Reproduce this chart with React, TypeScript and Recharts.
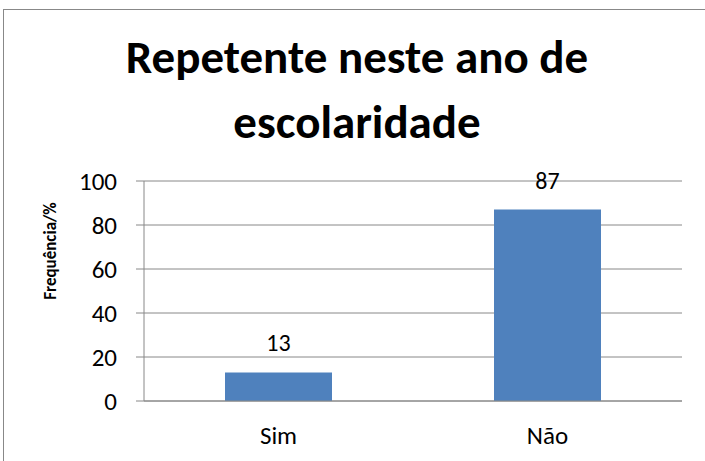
import { BarChart, Bar, XAxis, YAxis, CartesianGrid, LabelList } from "recharts";

const categories = ["Sim", "Não"];
const frequencia = [13, 87];
const yTicks = [0, 20, 40, 60, 80, 100];
const titleLines = ["Repetente neste ano de", "escolaridade"];
const yLabel = "Frequência/%";

const data = categories.map((c, i) => ({ name: c, value: frequencia[i] }));

const font = "Carlito, Calibri, 'Open Sans', sans-serif";

export default function App() {
  return (
    <div
      style={{
        position: "absolute",
        left: 0,
        top: 0,
        width: 705,
        height: 461,
        overflow: "hidden",
        background: "#fff",
      }}
    >
      {/* chart frame, runs off the right and bottom edge */}
      <div
        style={{
          position: "absolute",
          left: 3,
          top: 9,
          width: 900,
          height: 700,
          border: "1px solid #888",
        }}
      />
      <BarChart
        width={705}
        height={461}
        data={data}
        margin={{ top: 181, right: 23, bottom: 30, left: 84 }}
        style={{ position: "absolute", left: 0, top: 0 }}
      >
        <CartesianGrid vertical={false} stroke="#888" strokeWidth={1} />
        <XAxis
          dataKey="name"
          tickLine={false}
          tickSize={0}
          tickMargin={25}
          axisLine={{ stroke: "#888" }}
          tick={{ fill: "#000", fontSize: 25, fontFamily: font }}
        />
        <YAxis
          width={60}
          domain={[0, 100]}
          ticks={yTicks}
          interval={0}
          tickSize={8}
          tickMargin={19}
          tickLine={{ stroke: "#888" }}
          axisLine={{ stroke: "#888" }}
          tick={{ fill: "#000", fontSize: 25, fontFamily: font }}
        />
        <Bar dataKey="value" fill="#4F81BD" barSize={107} isAnimationActive={false}>
          <LabelList
            dataKey="value"
            position="top"
            offset={21}
            fill="#000"
            fontSize={24}
            fontFamily={font}
          />
        </Bar>
      </BarChart>
      <svg
        width={705}
        height={461}
        style={{ position: "absolute", left: 0, top: 0, pointerEvents: "none" }}
      >
        {titleLines.map((t, i) => (
          <text
            key={t}
            x={357}
            y={73 + i * 65}
            textAnchor="middle"
            fontFamily={font}
            fontSize={47}
            fontWeight="bold"
            fill="#000"
          >
            {t}
          </text>
        ))}
        <text
          transform="translate(56 251) rotate(-90)"
          textAnchor="middle"
          fontFamily={font}
          fontSize={17}
          fontWeight="bold"
          fill="#000"
        >
          {yLabel}
        </text>
      </svg>
    </div>
  );
}
